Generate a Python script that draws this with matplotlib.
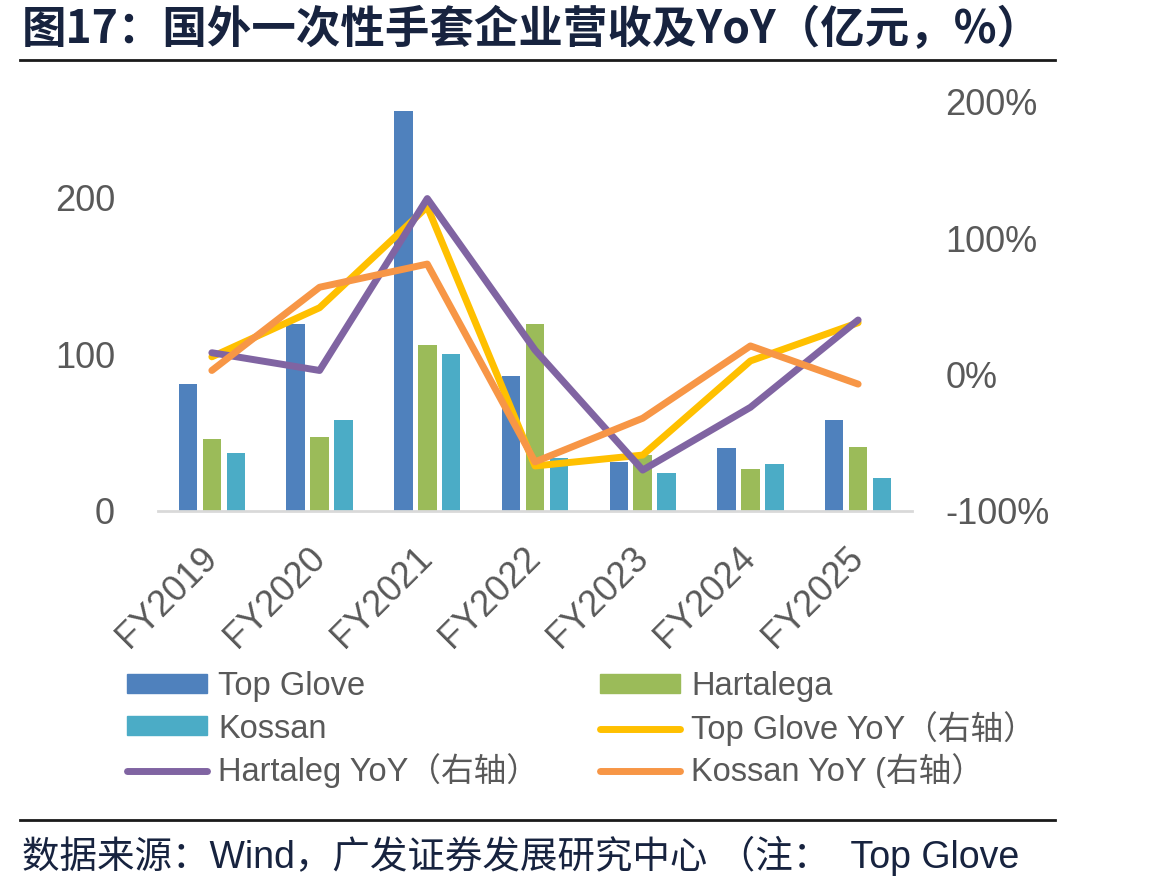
import matplotlib
matplotlib.use("Agg")
import matplotlib.pyplot as plt
import numpy as np
from matplotlib.lines import Line2D
from matplotlib.patches import Patch

# ---------------- data ----------------
categories = ["FY2019", "FY2020", "FY2021", "FY2022", "FY2023", "FY2024", "FY2025"]
top_glove = [81, 119, 255, 86, 31, 40, 58]          # 亿元
hartalega = [46, 47, 106, 119, 36, 27, 41]          # 亿元
kossan = [37, 58, 100, 34, 24, 30, 21]              # 亿元
top_glove_yoy = [13, 49, 123, -67, -59, 10, 38]     # %
hartaleg_yoy = [16, 3, 129, 18, -70, -24, 40]       # %
kossan_yoy = [3, 64, 81, -64, -32, 21, -7]          # %
left_ticks = [0, 100, 200]
right_ticks = [-100, 0, 100, 200]

title_text = "图17：国外一次性手套企业营收及YoY（亿元，%）"
source_text = "数据来源：Wind，广发证券发展研究中心 （注：  Top Glove"

# ---------------- style ----------------
C_TG, C_H, C_K = "#4F81BD", "#9BBB59", "#4BACC6"
C_TGY, C_HY, C_KY = "#FFC000", "#8064A2", "#F79646"
GRAY = "#595959"
NAVY = "#17233F"
LAT = ["Liberation Sans", "Noto Sans CJK SC"]
CJK = ["Noto Sans CJK SC", "Liberation Sans"]

W, H = 1164, 889
fig = plt.figure(figsize=(W / 100, H / 100), dpi=100)
fig.patch.set_facecolor("white")

def fx(px):
    return px / W

def fy(py):
    return 1 - py / H

ax = fig.add_axes([fx(158), fy(511), fx(912) - fx(158), fy(101.7) - fy(511)])
ax2 = ax.twinx()

x = np.arange(len(categories))
bw = 0.172
off = 0.222
ax.bar(x - off, top_glove, bw, color=C_TG, label="Top Glove", zorder=2)
ax.bar(x, hartalega, bw, color=C_H, label="Hartalega", zorder=2)
ax.bar(x + off, kossan, bw, color=C_K, label="Kossan", zorder=2)

lw = 5
kw = dict(lw=lw, solid_capstyle="round", solid_joinstyle="round")
ax2.plot(x, top_glove_yoy, color=C_TGY, **kw)
ax2.plot(x, hartaleg_yoy, color=C_HY, **kw)
ax2.plot(x, kossan_yoy, color=C_KY, **kw)

ax.set_xlim(-0.5, len(categories) - 0.5)
ax.set_ylim(0, 261)
ax2.set_ylim(-100, 200)

ax.set_yticks(left_ticks)
ax.set_yticklabels([str(t) for t in left_ticks], fontsize=26, color=GRAY, family=LAT)
ax2.set_yticks(right_ticks)
ax2.set_yticklabels([f"{t}%" for t in right_ticks], fontsize=26, color=GRAY, family=LAT)
ax.tick_params(axis="y", length=0, pad=31)
ax2.tick_params(axis="y", length=0, pad=24)

ax.set_xticks(x)
ax.set_xticklabels(categories, fontsize=26, color=GRAY, family=LAT,
                   rotation=45, ha="right", va="center", rotation_mode="anchor")
ax.tick_params(axis="x", length=0, pad=30)

for a in (ax, ax2):
    for s in ("top", "left", "right", "bottom"):
        a.spines[s].set_visible(False)
ax.spines["bottom"].set_visible(True)
ax.spines["bottom"].set_color("#D9D9D9")
ax.spines["bottom"].set_linewidth(2)
ax.patch.set_visible(False)

# ---------------- legend (one entry per slot, 2 columns x 3 rows) ----------------
lfs = 23.5
h_tg = Patch(color=C_TG, label="Top Glove")
h_h = Patch(color=C_H, label="Hartalega")
h_k = Patch(color=C_K, label="Kossan")
h_tgy = Line2D([], [], color=C_TGY, lw=lw, solid_capstyle="round", label="Top Glove YoY（右轴）")
h_hy = Line2D([], [], color=C_HY, lw=lw, solid_capstyle="round", label="Hartaleg YoY（右轴）")
h_ky = Line2D([], [], color=C_KY, lw=lw, solid_capstyle="round", label="Kossan YoY (右轴）")

slots = [(h_tg, 127, 687), (h_h, 600, 687),
         (h_k, 127, 729), (h_tgy, 600, 729),
         (h_hy, 127, 771), (h_ky, 600, 771)]
for handle, px, py in slots:
    lg = fig.legend(handles=[handle], bbox_to_anchor=(fx(px), fy(py)), loc="center left",
                    frameon=False, handlelength=2.45, handleheight=0.52,
                    handletextpad=0.34, borderpad=0, borderaxespad=0,
                    prop={"family": LAT, "size": lfs})
    for t in lg.get_texts():
        t.set_color(GRAY)

# ---------------- title / source ----------------
fig.text(fx(22), fy(30), title_text, fontsize=32, fontweight="bold", color=NAVY,
         family=CJK, ha="left", va="center")
fig.add_artist(Line2D([fx(20), fx(1055)], [fy(60), fy(60)], color="#1A1A1A", lw=2))
fig.add_artist(Line2D([fx(20), fx(1055)], [fy(820), fy(820)], color="#1A1A1A", lw=2))
fig.text(fx(22), fy(856), source_text, fontsize=27, color=NAVY,
         family=LAT, ha="left", va="center")

fig.savefig("out.png", dpi=100, facecolor="white")
